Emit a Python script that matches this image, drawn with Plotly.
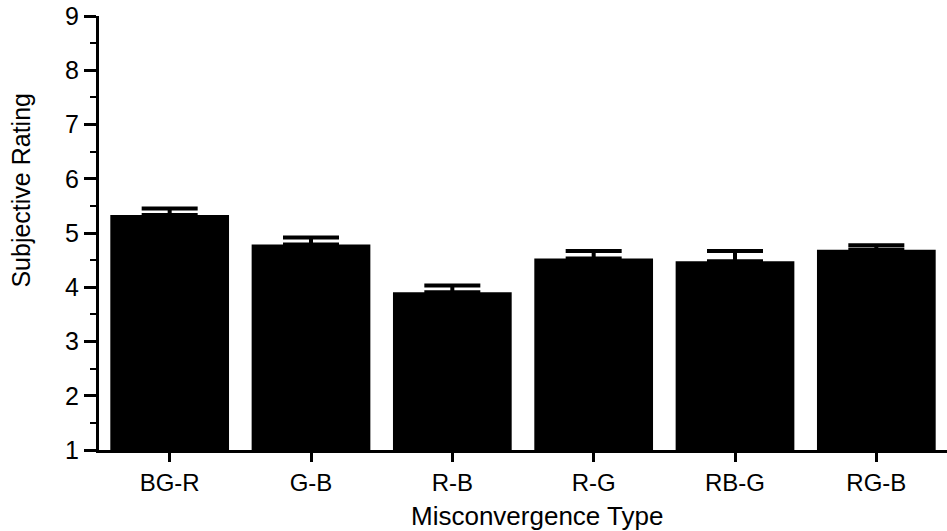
import plotly.graph_objects as go

categories = ["BG-R", "G-B", "R-B", "R-G", "RB-G", "RG-B"]
ratings = [5.33, 4.79, 3.91, 4.53, 4.48, 4.69]
errors = [0.12, 0.125, 0.12, 0.14, 0.19, 0.085]
y_ticks = [1, 2, 3, 4, 5, 6, 7, 8, 9]

FONT = "Liberation Sans, Arial, Helvetica, sans-serif"

fig = go.Figure()
fig.add_trace(go.Bar(
    x=categories, y=ratings, width=0.84,
    marker=dict(color="black", line=dict(width=0)),
    error_y=dict(type="data", array=errors, symmetric=False, arrayminus=[0]*len(errors),
                 color="black", thickness=4, width=28, visible=True),
))

fig.update_layout(
    width=947, height=531,
    margin=dict(l=99, r=0, t=16, b=81),
    paper_bgcolor="white", plot_bgcolor="white",
    showlegend=False,
    font=dict(family=FONT, size=22, color="black"),
    xaxis=dict(
        range=[-0.5, 5.5], showline=True, linecolor="black", linewidth=3,
        ticks="outside", ticklen=9, tickwidth=3, tickcolor="black",
        tickfont=dict(size=24), showgrid=False, zeroline=False,
    ),
    yaxis=dict(
        range=[1, 9], tickvals=y_ticks, showline=True, linecolor="black", linewidth=3,
        ticks="outside", ticklen=12, tickwidth=3, tickcolor="black",
        tickfont=dict(size=25), showgrid=False, zeroline=False,
        minor=dict(dtick=0.5, tick0=0, ticks="outside", ticklen=6, tickwidth=2, tickcolor="black", showgrid=False),
    ),
    annotations=[
        dict(text="Misconvergence Type", xref="paper", yref="paper", x=0.516, y=-0.152,
             xanchor="center", yanchor="middle", showarrow=False, font=dict(size=26)),
        dict(text="Subjective Rating", xref="paper", yref="paper", x=-0.092, y=0.6,
             xanchor="center", yanchor="middle", textangle=-90, showarrow=False, font=dict(size=25)),
    ],
)

fig.write_html("out.html", config={"displayModeBar": False},
               post_script="document.body.style.margin='0';")
